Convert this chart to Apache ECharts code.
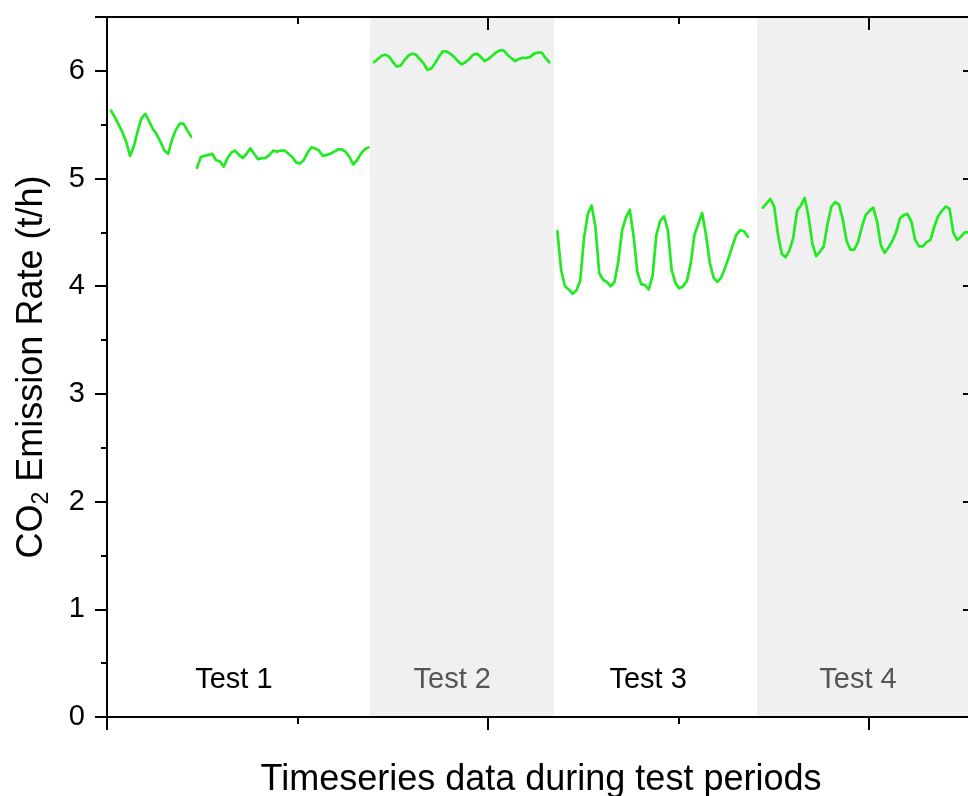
<!DOCTYPE html>
<html><head><meta charset="utf-8">
<script src="https://cdn.jsdelivr.net/npm/echarts@6/dist/echarts.min.js"></script>
<style>html,body{margin:0;padding:0;overflow:hidden;background:#fff;width:968px;height:796px}#c{width:1000px;height:796px}</style>
</head><body><div id="c"></div><script>
// x in time units (1 unit = one sample), y in t/h
const segmentStarts = [1.05, 23.62, 70.08, 118.19, 172.10];
const test1a = [5.63,5.57,5.50,5.43,5.34,5.21,5.30,5.44,5.56,5.60,5.53,5.46,5.41,5.34,5.26,5.23,5.36,5.45,5.51,5.51,5.45,5.39];
const test1b = [5.10,5.20,5.21,5.22,5.23,5.17,5.16,5.11,5.19,5.24,5.26,5.22,5.19,5.23,5.28,5.23,5.18,5.19,5.19,5.22,5.26,5.25,5.26,5.26,5.23,5.20,5.15,5.14,5.17,5.24,5.29,5.28,5.26,5.21,5.22,5.23,5.25,5.27,5.27,5.25,5.20,5.13,5.17,5.23,5.27,5.29];
const test2 = [6.08,6.11,6.14,6.15,6.13,6.08,6.04,6.05,6.10,6.14,6.16,6.15,6.11,6.07,6.01,6.02,6.07,6.13,6.18,6.18,6.16,6.13,6.09,6.06,6.08,6.11,6.15,6.16,6.13,6.09,6.11,6.14,6.17,6.19,6.19,6.15,6.12,6.09,6.11,6.12,6.12,6.13,6.16,6.17,6.17,6.12,6.08];
const test3 = [4.51,4.15,4.00,3.97,3.93,3.96,4.05,4.45,4.67,4.75,4.55,4.12,4.06,4.04,4.00,4.04,4.23,4.52,4.64,4.71,4.47,4.13,4.02,4.01,3.97,4.10,4.48,4.61,4.65,4.52,4.15,4.03,3.98,4.00,4.05,4.21,4.48,4.58,4.68,4.48,4.22,4.08,4.04,4.08,4.17,4.27,4.38,4.48,4.52,4.51,4.46];
const test4 = [4.73,4.77,4.81,4.74,4.48,4.30,4.27,4.33,4.45,4.70,4.75,4.82,4.65,4.40,4.28,4.32,4.37,4.58,4.74,4.78,4.76,4.62,4.42,4.34,4.34,4.41,4.55,4.66,4.70,4.73,4.60,4.38,4.31,4.36,4.42,4.50,4.63,4.66,4.67,4.60,4.43,4.37,4.37,4.41,4.43,4.55,4.65,4.70,4.74,4.72,4.50,4.43,4.46,4.50,4.50];
const shadedBands = [[69.0, 117.3], [170.6, 227.8]];
const testLabels = ['Test 1', 'Test 2', 'Test 3', 'Test 4'];
const testLabelX = [33.3, 90.6, 142.0, 197.1];
const testLabelY = 0.34;
const testLabelColors = ['#000', '#555', '#000', '#555'];
const yTicks = [0, 1, 2, 3, 4, 5, 6];
const xMax = 227.8;

const FONT = '"Liberation Sans", Arial, sans-serif';
const segments = [test1a, test1b, test2, test3, test4];
const lineSeries = segments.map((vals, k) => ({
  type: 'line', z: 5, showSymbol: false, symbol: 'none', animation: false,
  lineStyle: { color: '#22ea22', width: 2.7, join: 'round', cap: 'round' },
  data: vals.map((v, i) => [segmentStarts[k] + i, v])
}));

const axisLineStyle = { color: '#000', width: 2 };
const option = {
  animation: false,
  grid: { left: 107, top: 17, right: 25, bottom: 79, outerBoundsMode: 'none', containLabel: false },
  xAxis: [{
    type: 'value', min: 0, max: xMax, interval: 100, position: 'bottom', z: 10,
    axisLine: { show: true, onZero: false, lineStyle: axisLineStyle },
    axisTick: { show: true, length: 13, lineStyle: { color: '#000', width: 2 } },
    minorTick: { show: true, splitNumber: 2, length: 7, lineStyle: { color: '#000', width: 2 } },
    axisLabel: { show: false }, splitLine: { show: false },
    name: 'Timeseries data during test periods', nameLocation: 'middle', nameGap: 45,
    nameTextStyle: { fontFamily: FONT, fontSize: 36, color: '#000' }
  }, {
    type: 'value', min: 0, max: xMax, interval: 100, position: 'top', z: 10,
    axisLine: { show: true, onZero: false, lineStyle: axisLineStyle },
    axisTick: { show: true, inside: true, length: 13, lineStyle: { color: '#000', width: 2 } },
    minorTick: { show: true, splitNumber: 2, length: 7, lineStyle: { color: '#000', width: 2 } },
    axisLabel: { show: false }, splitLine: { show: false }
  }],
  yAxis: [{
    type: 'value', min: 0, max: 6.5, interval: 1, position: 'left', z: 10,
    axisLine: { show: true, onZero: false, lineStyle: axisLineStyle },
    axisTick: { show: true, length: 12, lineStyle: { color: '#000', width: 2 } },
    minorTick: { show: true, splitNumber: 2, length: 6, lineStyle: { color: '#000', width: 2 } },
    axisLabel: { fontFamily: FONT, fontSize: 29, color: '#000', margin: 22,
      formatter: v => yTicks.includes(v) ? String(v) : '' },
    splitLine: { show: false },
    name: '{a|CO}{s|2}{a| Emission Rate (t/h)}', nameLocation: 'middle', nameGap: 54, nameRotate: 90,
    nameTextStyle: { rich: {
      a: { fontFamily: FONT, fontSize: 36, color: '#000', lineHeight: 42 },
      s: { fontFamily: FONT, fontSize: 23, color: '#000', verticalAlign: 'bottom', lineHeight: 22 }
    } }
  }, {
    type: 'value', min: 0, max: 6.5, interval: 1, position: 'right', z: 10,
    axisLine: { show: true, onZero: false, lineStyle: axisLineStyle },
    axisTick: { show: true, inside: true, length: 12, lineStyle: { color: '#000', width: 2 } },
    minorTick: { show: true, splitNumber: 2, length: 6, lineStyle: { color: '#000', width: 2 } },
    axisLabel: { show: false }, splitLine: { show: false }
  }],
  series: [{
    type: 'line', z: 1, data: [], silent: true,
    markArea: { silent: true, itemStyle: { color: '#f0f0f0' },
      data: shadedBands.map(b => [{ xAxis: b[0], yAxis: 0 }, { xAxis: b[1], yAxis: 6.5 }]) }
  }, {
    type: 'scatter', z: 4, symbolSize: 0, silent: true, itemStyle: { opacity: 1 },
    data: testLabels.map((t, i) => ({ value: [testLabelX[i], testLabelY], name: t,
      label: { color: testLabelColors[i] } })),
    label: { show: true, position: 'inside', formatter: p => p.name, opacity: 1,
      fontFamily: FONT, fontSize: 29, textBorderWidth: 0 }
  }].concat(lineSeries)
};
const chart = echarts.init(document.getElementById('c'), null, { renderer: 'canvas' });
chart.setOption(option);
</script></body></html>
